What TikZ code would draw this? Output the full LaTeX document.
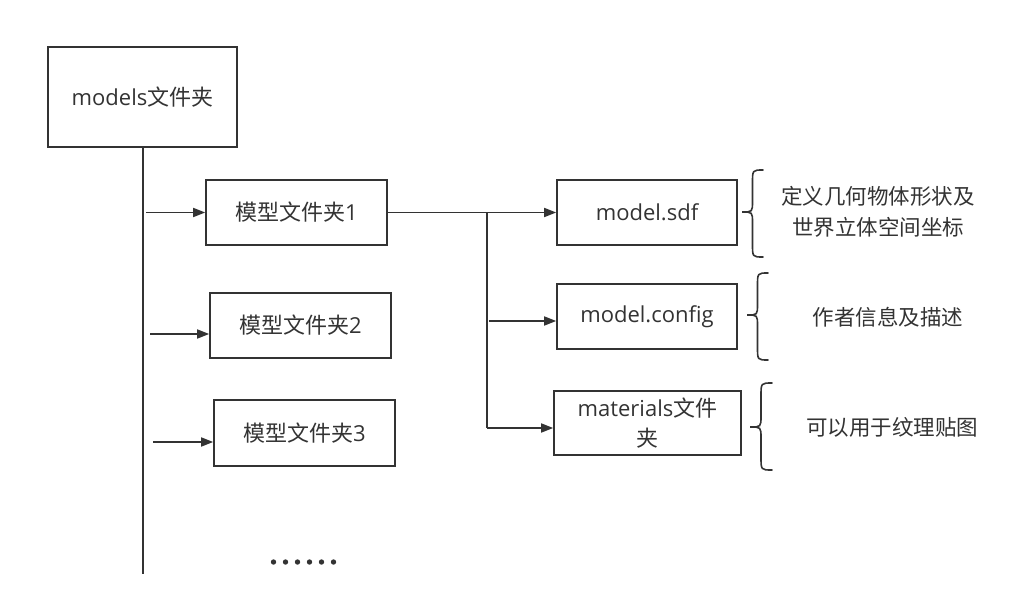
\documentclass[tikz,border=0pt]{standalone}
\usepackage{fontspec}
\setmainfont{Open Sans}
\newfontfamily\cjk{Noto Sans CJK SC}
\usetikzlibrary{arrows.meta}
\definecolor{ink}{HTML}{333333}
\tikzset{
  box/.style={draw=ink, line width=1.6pt, inner sep=0pt, text=ink, font=\fontsize{22}{30}\selectfont, align=center},
  conn/.style={draw=ink, line width=1.6pt},
  arr/.style={conn, -{Triangle[length=12pt,width=9pt]}},
  brace/.style={draw=ink, line width=1.6pt, line cap=round},
  lbl/.style={text=ink, font=\fontsize{21.5}{31}\selectfont, align=center, inner sep=0pt}
}
\newcommand{\bracepath}[5]{% xl xr yt ym yb
  \draw[brace] (#2,#3) .. controls ({(#1+#2)/2},#3) .. ({(#1+#2)/2},#3+13)
    -- ({(#1+#2)/2},#4-11) .. controls ({(#1+#2)/2},#4) .. (#1,#4)
    .. controls ({(#1+#2)/2},#4) .. ({(#1+#2)/2},#4+11)
    -- ({(#1+#2)/2},#5-13) .. controls ({(#1+#2)/2},#5) .. (#2,#5);}
\begin{document}
\begin{tikzpicture}[x=1pt,y=-1pt]
\useasboundingbox (0,0) rectangle (1028,611);
\node[box, minimum width=189pt, minimum height=100pt] (models) at (142.5,97) {models{\cjk 文件夹}};
\node[box, minimum width=181pt, minimum height=65pt] (b1) at (296.5,212.5) {{\cjk 模型文件夹}1};
\node[box, minimum width=181pt, minimum height=65pt] (b2) at (300.5,325.5) {{\cjk 模型文件夹}2};
\node[box, minimum width=181pt, minimum height=66pt] (b3) at (304.5,433) {{\cjk 模型文件夹}3};
\node[box, minimum width=180pt, minimum height=65pt] (sdf) at (647,212.5) {model.sdf};
\node[box, minimum width=180pt, minimum height=65pt] (cfg) at (647,316.5) {model.config};
\node[box, minimum width=187pt, minimum height=64pt] (mat) at (647.5,423) {materials{\cjk 文件}\\{\cjk 夹}};

\coordinate (tb) at (143,574);
\draw[conn] (models.south -| tb) -- (tb);
\coordinate (a1) at (146,212.5);
\coordinate (a2) at (150,334);
\coordinate (a3) at (153,442);
\draw[arr] (a1) -- (b1.west |- a1);
\draw[arr] (a2) -- (b2.west |- a2);
\draw[arr] (a3) -- (b3.west |- a3);

\coordinate (j1) at (487,212.5);
\coordinate (j3) at (487,428);
\coordinate (j2) at (489,321);
\draw[conn] (b1.east) -- (j1) -- (j3);
\draw[arr] (j1) -- (sdf.west |- j1);
\draw[arr] (j2) -- (cfg.west |- j2);
\draw[arr] (j3) -- (mat.west |- j3);

\bracepath{742}{763}{170}{212}{257}
\bracepath{747}{768}{273}{315}{360}
\bracepath{750}{772}{383}{427}{470}

\node[lbl] (t1) at (878,212) {\cjk 定义几何物体形状及\\\cjk 世界立体空间坐标};
\node[lbl] (t2) at (888,317) {\cjk 作者信息及描述};
\node[lbl] (t3) at (892,427) {\cjk 可以用于纹理贴图};

\foreach \i in {0,...,5} \fill[ink] (273.5+\i*12,562) circle (2.7pt);
\end{tikzpicture}
\end{document}
